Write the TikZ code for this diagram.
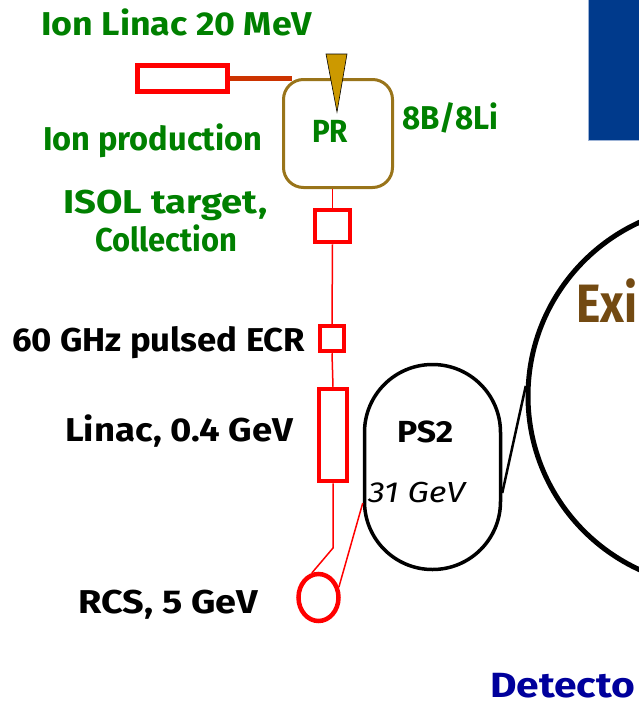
\documentclass[tikz,border=0pt]{standalone}
\usepackage{fontspec}
\setmainfont{Fira Sans}
\usepackage{graphicx}
\usetikzlibrary{shapes.geometric}
\definecolor{lblgreen}{HTML}{008000}
\definecolor{prbrown}{HTML}{99741A}
\definecolor{gold}{HTML}{CC9900}
\definecolor{feedred}{HTML}{CC3300}
\definecolor{exibrown}{HTML}{734A12}
\definecolor{detblue}{HTML}{00009C}
\definecolor{boxblue}{HTML}{003A8C}
\definecolor{boxedge}{HTML}{9DB3D6}
\newcommand\fitto[2]{\resizebox{#1}{\height}{#2}}
\begin{document}
\begin{tikzpicture}[x=1pt,y=-1pt,
  lbl/.style={anchor=base west, inner sep=0pt, font=\bfseries\fontsize{33}{36}\selectfont},
  gl/.style={lbl, text=lblgreen},
  bl/.style={lbl, text=black},
  redbox/.style={draw=red, line width=4.5pt, inner sep=0pt, fill=white},
  redline/.style={draw=red, line width=1.5pt},
  ring/.style={draw=black, inner sep=0pt}]
\useasboundingbox (0,0) rectangle (638,705);

% blue panel (top right)
\filldraw[fill=boxblue, draw=boxedge, line width=1pt] (588.5,-3) rectangle (642,140.5);

% green labels
\node[gl] (tLin20) at (41,35) {\fitto{271pt}{Ion Linac 20 MeV}};
\node[gl] (tIonProd) at (43,150) {\fitto{219pt}{Ion production}};
\node[gl] (tIsol) at (63,213) {\fitto{204pt}{ISOL target,}};
\node[gl] (tColl) at (95,251) {\fitto{142pt}{Collection}};
\node[gl] (t8B) at (402,129) {\fitto{96pt}{8B/8Li}};
\node[gl, font=\bfseries\fontsize{32}{34}\selectfont] (tPR) at (312,142) {\fitto{36pt}{PR}};

% black labels
\node[bl] (tECR) at (12,351) {\fitto{293pt}{60 GHz pulsed ECR}};
\node[bl] (tLinac) at (65,441) {\fitto{228pt}{Linac, 0.4 GeV}};
\node[bl] (tRCS) at (78,613) {\fitto{180pt}{RCS, 5 GeV}};
\node[bl, font=\bfseries\fontsize{30.5}{33}\selectfont] (tPS2) at (397,442) {\fitto{56pt}{PS2}};
\node[bl, font=\itshape\fontsize{29}{31}\selectfont] (t31) at (368,502) {\fitto{97pt}{31 GeV}};

% partial labels at the right edge
\node[lbl, text=exibrown, font=\bfseries\fontsize{54}{58}\selectfont] (tExi) at (576,322) {\fitto{61pt}{Exi}};
\node[lbl, text=detblue, font=\bfseries\fontsize{35}{38}\selectfont] (tDet) at (490,697) {\fitto{145pt}{Detecto}};

% production box
\node[draw=prbrown, line width=3pt, rounded corners=20pt, minimum width=109pt, minimum height=108pt, inner sep=0pt] (pr) at (338,133.5) {};
\filldraw[fill=gold, draw=black, line width=0.6pt] (326,54) -- (347,54) -- (337,112) -- cycle;

% red elements
\node[redbox, line width=5pt, minimum width=90pt, minimum height=26pt] (lin20) at (182.5,78.5) {};
\node[redbox, minimum width=35pt, minimum height=32pt] (isol) at (332.5,226) {};
\node[redbox, minimum width=24pt, minimum height=25pt] (ecr) at (332,338.5) {};
\node[redbox, minimum width=28pt, minimum height=92pt] (linac) at (333,435) {};
\node[ellipse, draw=red, line width=4.5pt, minimum width=40pt, minimum height=47pt, inner sep=0pt] (rcs) at (318.5,597.5) {};

% rings
\node[ring, line width=3.5pt, rounded corners=67.9pt, minimum width=136pt, minimum height=205pt] (ps2) at (432.5,467) {};
\node[ring, circle, line width=5pt, minimum size=382pt] (big) at (719,396) {};

% connectors
\coordinate (feed) at ([xshift=10pt]pr.north west);
\draw[feedred, line width=5pt] (lin20.east) -- (feed |- lin20.east);
\draw[redline] (isol.north |- pr.south) -- (isol.north);
\draw[redline] (isol.south) -- (ecr.north);
\draw[redline] (ecr.south) -- (linac.north);
\coordinate (bend) at (333,548);
\draw[redline] (linac.south) -- (bend) -- (rcs.105);
\draw[redline] (rcs.27) -- ([yshift=-36pt]ps2.west);
\draw[black, line width=2.5pt] ([yshift=-26pt]ps2.east) -- (big.177);
\end{tikzpicture}
\end{document}
